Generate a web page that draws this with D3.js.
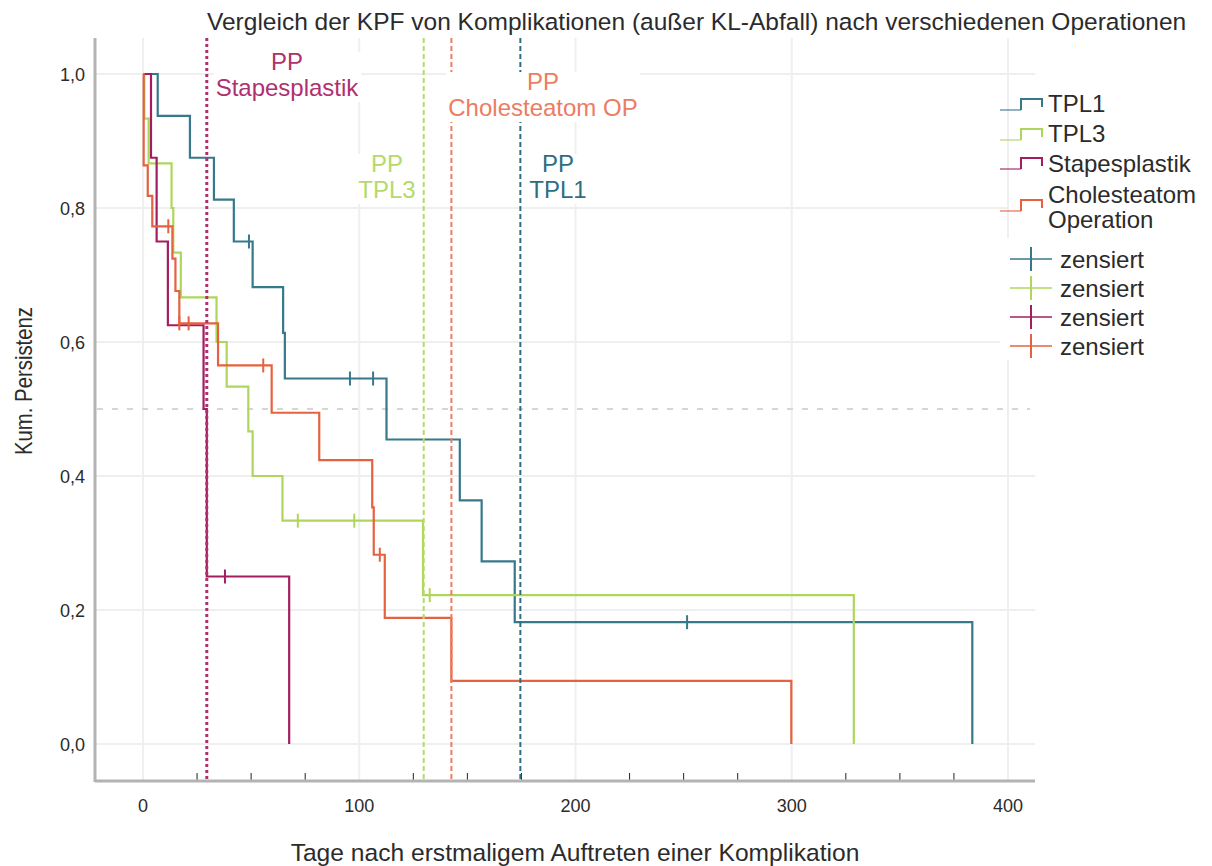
<!DOCTYPE html>
<html>
<head>
<meta charset="utf-8">
<script src="https://cdn.jsdelivr.net/npm/d3@7"></script>
<style>
  body { margin: 0; background: #fff; }
  svg { display: block; font-family: 'Liberation Sans', Arial, sans-serif; }
</style>
</head>
<body>
<svg id="chart" width="1212" height="866"></svg>
<script>
// Kaplan-Meier steps (days, cumulative persistence after the step)
const seriesNames = ['TPL1', 'TPL3', 'Stapesplastik', 'Cholesteatom Operation'];
const seriesColors = ['#35798b', '#afd65c', '#a31e60', '#e5613f'];

const tpl1Days = [0, 6.8, 21.7, 32.8, 42, 50.7, 64.8, 65.6, 112.6, 146.5, 156.6, 171.9, 383.5];
const tpl1Surv = [1, 0.9375, 0.875, 0.8125, 0.75, 0.6818, 0.6136, 0.5455, 0.4545, 0.3636, 0.2727, 0.1818, 0];
const tpl1Censored = [49, 95.7, 106.4, 251.6];

const tpl3Days = [0, 0.6, 2.6, 13.2, 14, 17.5, 34, 38.7, 48.7, 50.7, 64.5, 129.5, 328.7];
const tpl3Surv = [1, 0.9333, 0.8667, 0.8, 0.7333, 0.6667, 0.6, 0.5333, 0.4667, 0.4, 0.3333, 0.2222, 0];
const tpl3Censored = [71.6, 97.7, 132.6];

const stapesDays = [0, 3.7, 6.3, 11.5, 28.0, 29.5, 67.6];
const stapesSurv = [1, 0.875, 0.75, 0.625, 0.5, 0.25, 0];
const stapesCensored = [37.9];

const cholDays = [0, 0.3, 2.2, 4.3, 13.6, 15, 16.8, 34.7, 59.5, 81.5, 106, 106.7, 111.8, 142.6, 299.8];
const cholSurv = [1, 0.8636, 0.8182, 0.7727, 0.7244, 0.6761, 0.6278, 0.565, 0.4944, 0.4238, 0.3531, 0.2825, 0.1883, 0.0942, 0];
const cholCensored = [11.7, 16.8, 21.1, 55.6, 109.5];

// reference lines ("PP") per group
const ppDays = [29.5, 129.8, 142.6, 174.5];
const ppLabels = [['PP', 'Stapesplastik'], ['PP', 'TPL3'], ['PP', 'Cholesteatom OP'], ['PP', 'TPL1']];
const ppColors = ['#b0306f', '#b5d96a', '#ec7c63', '#2f6e80'];

const xTicks = [0, 100, 200, 300, 400];
const yTicks = [0, 0.2, 0.4, 0.6, 0.8, 1.0];

const title = 'Vergleich der KPF von Komplikationen (außer KL-Abfall) nach verschiedenen Operationen';
const xTitle = 'Tage nach erstmaligem Auftreten einer Komplikation';
const yTitle = 'Kum. Persistenz';

const series = [
  { days: tpl1Days, surv: tpl1Surv, censored: tpl1Censored },
  { days: tpl3Days, surv: tpl3Surv, censored: tpl3Censored },
  { days: stapesDays, surv: stapesSurv, censored: stapesCensored },
  { days: cholDays, surv: cholSurv, censored: cholCensored },
];

const svg = d3.select('#chart');
const textColor = '#2b2b2b';

// plot frame
const plotLeft = 95;
const plotRight = 1035;
const plotTop = 38;
const plotBottom = 781;

const xScale = d3.scaleLinear().domain([0, 400]).range([143, 1008]);
const yScale = d3.scaleLinear().domain([0, 1]).range([744, 74]);

// grid
svg.append('g')
  .selectAll('line')
  .data(yTicks)
  .join('line')
  .attr('x1', plotLeft)
  .attr('x2', plotRight)
  .attr('y1', (d) => yScale(d))
  .attr('y2', (d) => yScale(d))
  .attr('stroke', '#efefef')
  .attr('stroke-width', 2);

svg.append('g')
  .selectAll('line')
  .data(xTicks)
  .join('line')
  .attr('x1', (d) => xScale(d))
  .attr('x2', (d) => xScale(d))
  .attr('y1', plotTop)
  .attr('y2', plotBottom)
  .attr('stroke', '#efefef')
  .attr('stroke-width', 2);

// 50% reference line
svg.append('line')
  .attr('x1', plotLeft + 2)
  .attr('x2', plotRight - 5)
  .attr('y1', yScale(0.5))
  .attr('y2', yScale(0.5))
  .attr('stroke', '#d6d6d6')
  .attr('stroke-width', 2)
  .attr('stroke-dasharray', '6,9');

// minor ticks on x axis
const minorTicks = d3.range(25, 400, 25).filter((d) => d % 100 !== 0);
svg.append('g')
  .selectAll('line')
  .data(minorTicks)
  .join('line')
  .attr('x1', (d) => xScale(d))
  .attr('x2', (d) => xScale(d))
  .attr('y1', plotBottom - 8)
  .attr('y2', plotBottom)
  .attr('stroke', '#222')
  .attr('stroke-width', 1);

// axis lines
svg.append('line')
  .attr('x1', plotLeft).attr('x2', plotLeft)
  .attr('y1', plotTop).attr('y2', plotBottom + 1)
  .attr('stroke', '#b3b3b3').attr('stroke-width', 3);
svg.append('line')
  .attr('x1', plotLeft).attr('x2', plotRight)
  .attr('y1', plotBottom).attr('y2', plotBottom)
  .attr('stroke', '#b3b3b3').attr('stroke-width', 3);

// tick labels
const commaFormat = (d) => d3.format('.1f')(d).replace('.', ',');
svg.append('g')
  .selectAll('text')
  .data(yTicks)
  .join('text')
  .attr('x', 85)
  .attr('y', (d) => yScale(d) + 6.5)
  .attr('text-anchor', 'end')
  .attr('font-size', 18)
  .attr('fill', textColor)
  .text(commaFormat);

svg.append('g')
  .selectAll('text')
  .data(xTicks)
  .join('text')
  .attr('x', (d) => xScale(d))
  .attr('y', 812)
  .attr('text-anchor', 'middle')
  .attr('font-size', 18)
  .attr('fill', textColor)
  .text((d) => d);

// titles
svg.append('text')
  .attr('x', 207)
  .attr('y', 30)
  .attr('font-size', 24.5)
  .attr('fill', textColor)
  .text(title);

svg.append('text')
  .attr('x', 575)
  .attr('y', 861)
  .attr('text-anchor', 'middle')
  .attr('font-size', 24.6)
  .attr('fill', textColor)
  .text(xTitle);

svg.append('text')
  .attr('transform', 'translate(32, 381) rotate(-90)')
  .attr('text-anchor', 'middle')
  .attr('font-size', 24)
  .attr('textLength', 148)
  .attr('lengthAdjust', 'spacingAndGlyphs')
  .attr('fill', textColor)
  .text(yTitle);

// survival curves
const stepLine = d3.line()
  .x((d) => xScale(d[0]))
  .y((d) => yScale(d[1]))
  .curve(d3.curveStepAfter);

// value of a step function at time t (last step at or before t)
function survAt(s, t) {
  const i = d3.bisectRight(s.days, t) - 1;
  return s.surv[Math.max(0, i)];
}

series.forEach((s, i) => {
  const pts = s.days.map((d, j) => [d, s.surv[j]]);
  svg.append('path')
    .attr('d', stepLine(pts))
    .attr('fill', 'none')
    .attr('stroke', seriesColors[i])
    .attr('stroke-width', 2.2)
    .attr('stroke-linejoin', 'miter');

  svg.append('g')
    .selectAll('line')
    .data(s.censored)
    .join('line')
    .attr('x1', (d) => xScale(d))
    .attr('x2', (d) => xScale(d))
    .attr('y1', (d) => yScale(survAt(s, d)) - 7)
    .attr('y2', (d) => yScale(survAt(s, d)) + 7)
    .attr('stroke', seriesColors[i])
    .attr('stroke-width', 2);
});

// PP reference lines, then their labels on white boxes above all of them
const ppDash = ['3,3', '5,3', '5,3', '5,3'];
const ppWidth = [3, 2, 2, 2];
const ppLabelX = [287, 387, 543, 558];
const ppLabelY = [70, 172, 90, 172];

svg.append('g')
  .selectAll('line')
  .data(ppDays)
  .join('line')
  .attr('x1', (d) => xScale(d))
  .attr('x2', (d) => xScale(d))
  .attr('y1', plotTop)
  .attr('y2', plotBottom)
  .attr('stroke', (d, i) => ppColors[i])
  .attr('stroke-width', (d, i) => ppWidth[i])
  .attr('stroke-dasharray', (d, i) => ppDash[i]);

ppLabels.forEach((lines, i) => {
  const g = svg.append('g');
  const box = g.append('rect').attr('fill', '#fff');
  const label = g.append('text')
    .attr('x', ppLabelX[i])
    .attr('y', ppLabelY[i])
    .attr('text-anchor', 'middle')
    .attr('font-size', 24)
    .attr('fill', ppColors[i]);
  label.selectAll('tspan')
    .data(lines)
    .join('tspan')
    .attr('x', ppLabelX[i])
    .attr('dy', (t, j) => (j === 0 ? 0 : 26))
    .text((t) => t);
  const bb = label.node().getBBox();
  box.attr('x', bb.x - 2).attr('y', bb.y + 4).attr('width', bb.width + 4).attr('height', bb.height - 3);
});

// legend: curves
const legend = svg.append('g');
legend.append('rect')
  .attr('x', 1009).attr('y', 86).attr('width', 203).attr('height', 148)
  .attr('fill', '#fff');

const legendLines = [['TPL1'], ['TPL3'], ['Stapesplastik'], ['Cholesteatom', 'Operation']];
const legendBase = [112, 142, 172, 203];
const symbolBase = [112, 142, 171, 213];

legendLines.forEach((lines, i) => {
  const b = symbolBase[i];
  legend.append('path')
    .attr('d', `M1000,${b - 2}H1021`)
    .attr('fill', 'none')
    .attr('stroke', seriesColors[i])
    .attr('stroke-opacity', 0.55)
    .attr('stroke-width', 2);
  legend.append('path')
    .attr('d', `M1021,${b - 2}V${b - 13}H1042V${b - 5}`)
    .attr('fill', 'none')
    .attr('stroke', seriesColors[i])
    .attr('stroke-width', 2);
  legend.append('text')
    .attr('x', 1048)
    .attr('y', legendBase[i])
    .attr('font-size', 24)
    .attr('fill', textColor)
    .selectAll('tspan')
    .data(lines)
    .join('tspan')
    .attr('x', 1048)
    .attr('dy', (t, j) => (j === 0 ? 0 : 25))
    .text((t) => t);
});

// legend: censored marks
legend.append('rect')
  .attr('x', 1000).attr('y', 238).attr('width', 212).attr('height', 122)
  .attr('fill', '#fff');

seriesNames.forEach((name, i) => {
  const cy = 259 + i * 29;
  legend.append('line')
    .attr('x1', 1010).attr('x2', 1052)
    .attr('y1', cy).attr('y2', cy)
    .attr('stroke', seriesColors[i])
    .attr('stroke-opacity', 0.75)
    .attr('stroke-width', 2);
  legend.append('line')
    .attr('x1', 1031).attr('x2', 1031)
    .attr('y1', cy - 12).attr('y2', cy + 12)
    .attr('stroke', seriesColors[i])
    .attr('stroke-width', 2);
  legend.append('text')
    .attr('x', 1060)
    .attr('y', cy + 8.5)
    .attr('font-size', 24)
    .attr('fill', textColor)
    .text('zensiert');
});
</script>
</body>
</html>
